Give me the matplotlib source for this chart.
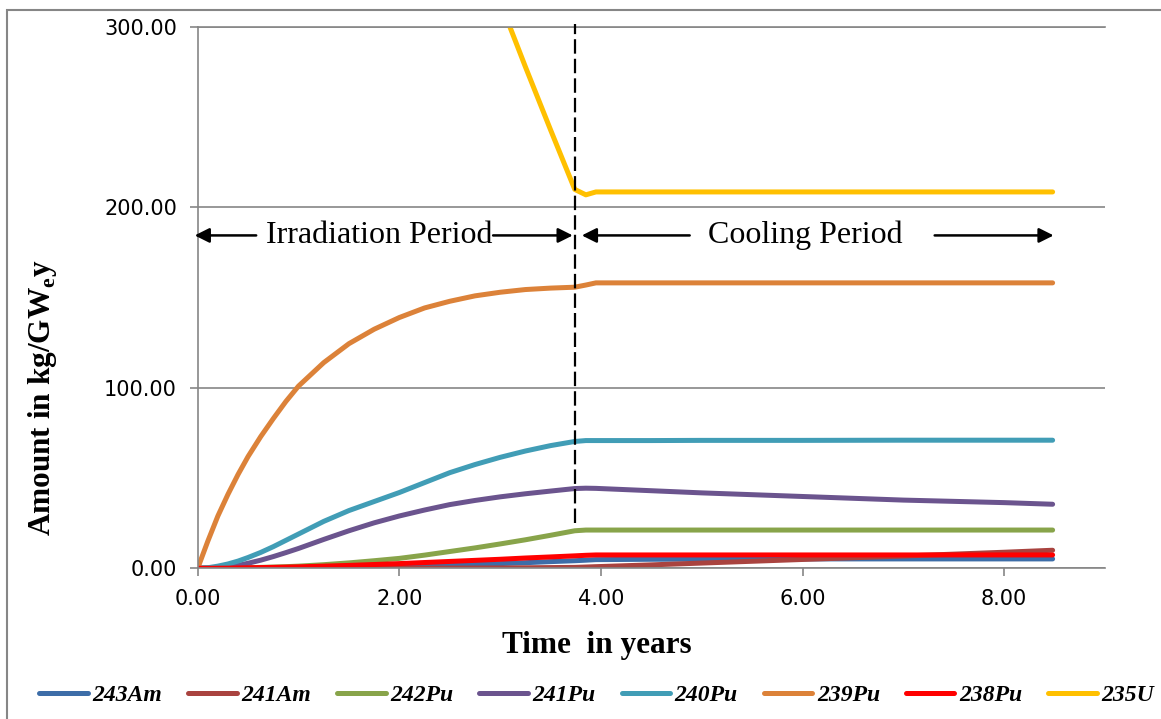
import numpy as np
import matplotlib.pyplot as plt
from matplotlib.patches import Rectangle
from matplotlib.ticker import FormatStrFormatter

# ------------------------------------------------------------------
# data: inventory (kg/GWe.y) versus time (years)
# ------------------------------------------------------------------
years = [0, 0.1, 0.2, 0.3, 0.4, 0.5, 0.625, 0.75, 0.875, 1.0,
         1.25, 1.5, 1.75, 2.0, 2.25, 2.5, 2.75, 3.0, 3.25, 3.5, 3.74,
         3.85, 3.95, 4.5, 5.0, 6.0, 7.0, 8.0, 8.48]

am243 = [0, 0, 0, 0, 0, 0, 0.02, 0.05, 0.08, 0.1,
         0.2, 0.4, 0.7, 1.0, 1.4, 1.8, 2.2, 2.6, 3.1, 3.7, 4.2,
         4.5, 4.8, 5.0, 5.1, 5.2, 5.2, 5.2, 5.2]
am241 = [0, 0, 0, 0, 0, 0, 0, 0, 0, 0,
         0, 0, 0.02, 0.05, 0.08, 0.1, 0.15, 0.2, 0.3, 0.4, 0.5,
         0.7, 0.9, 1.9, 2.9, 4.9, 6.8, 8.9, 10.0]
pu242 = [0, 0, 0, 0.1, 0.2, 0.3, 0.5, 0.7, 0.9, 1.2,
         2.0, 3.0, 4.2, 5.5, 7.3, 9.3, 11.3, 13.5, 15.8, 18.3, 20.8,
         21.2, 21.2, 21.2, 21.2, 21.2, 21.2, 21.2, 21.2]
pu241 = [0, 0.1, 0.3, 0.8, 1.6, 2.8, 4.5, 6.5, 8.7, 11.0,
         16.0, 20.8, 25.2, 29.0, 32.3, 35.3, 37.6, 39.6, 41.3, 42.8, 44.2,
         44.4, 44.3, 43.0, 41.8, 39.8, 37.8, 36.4, 35.5]
pu240 = [0, 0.3, 1.2, 2.4, 4.0, 6.0, 8.8, 12.0, 15.5, 19.0,
         26.0, 32.0, 37.0, 42.0, 47.5, 53.0, 57.5, 61.5, 65.0, 68.0, 70.3,
         70.8, 70.8, 70.8, 70.9, 70.9, 71.0, 71.0, 71.0]
pu239 = [0, 15, 29, 41, 52, 62, 73, 83, 92.5, 101,
         114, 124.5, 132.5, 139, 144.3, 148, 151, 153, 154.5, 155.3, 155.8,
         157.0, 158.2, 158.2, 158.2, 158.2, 158.2, 158.2, 158.2]
pu238 = [0, 0, 0.05, 0.1, 0.2, 0.3, 0.4, 0.5, 0.65, 0.8,
         1.2, 1.6, 2.1, 2.6, 3.2, 3.8, 4.4, 5.0, 5.7, 6.3, 6.9,
         7.2, 7.4, 7.4, 7.4, 7.4, 7.4, 7.4, 7.4]
u235 = [np.nan] * 15 + [385, 350, 314, 278, 243, 210,
                        207, 208.6, 208.6, 208.6, 208.6, 208.6, 208.6, 208.6]

labels = ['243Am', '241Am', '242Pu', '241Pu', '240Pu', '239Pu', '238Pu', '235U']
values = [am243, am241, pu242, pu241, pu240, pu239, pu238, u235]
colors = ['#3D6DA8', '#A9433F', '#88A44A', '#6B548E',
          '#419DB6', '#DC8239', '#FF0000', '#FFC000']

end_of_irradiation = 3.74

# ------------------------------------------------------------------
# figure
# ------------------------------------------------------------------
plt.rcParams['mathtext.fontset'] = 'custom'
plt.rcParams['mathtext.rm'] = 'Liberation Serif'
plt.rcParams['mathtext.bf'] = 'Liberation Serif:bold'

fig = plt.figure(figsize=(11.61, 7.19), dpi=100)
ax = fig.add_axes([0.1703, 0.2096, 0.7815, 0.7528])

grey = '#868686'

for y, lab, c in zip(values, labels, colors):
    ax.plot(years, y, color=c, lw=3.6, label=lab,
            solid_capstyle='round', solid_joinstyle='round')

ax.set_xlim(0, 9)
ax.set_ylim(0, 300)
ax.set_xticks([0, 2, 4, 6, 8])
ax.set_yticks([0, 100, 200, 300])
ax.xaxis.set_major_formatter(FormatStrFormatter('%.2f'))
ax.yaxis.set_major_formatter(FormatStrFormatter('%.2f'))
ax.tick_params(axis='both', labelsize=15, color=grey, width=1.2, length=6,
               labelfontfamily='DejaVu Sans')
ax.tick_params(axis='y', pad=9)
ax.tick_params(axis='x', pad=9)

ax.grid(axis='y', color=grey, lw=1.2)
ax.set_axisbelow(True)
for side in ['left', 'bottom', 'top']:
    ax.spines[side].set_color(grey)
    ax.spines[side].set_linewidth(1.2)
ax.spines['right'].set_visible(False)

# boundary between irradiation and cooling
ax.plot([end_of_irradiation, end_of_irradiation], [25, 301.5], color='black',
        lw=1.6, dashes=(6.5, 2.3), clip_on=False, zorder=5)

# period arrows and labels
arrow = dict(arrowstyle='-|>', color='black', lw=1.8, mutation_scale=22,
             shrinkA=0, shrinkB=0)
y_arrow = 184.5
for tail, head in [(0.58, -0.03), (2.93, 3.72), (4.88, 3.81), (7.31, 8.49)]:
    ax.annotate('', xy=(head, y_arrow), xytext=(tail, y_arrow),
                arrowprops=arrow, annotation_clip=False)

ax.text(1.80, y_arrow, 'Irradiation Period', ha='center', va='center',
        family='Liberation Serif', fontsize=23)
ax.text(6.03, y_arrow, 'Cooling Period', ha='center', va='center',
        family='Liberation Serif', fontsize=23)

fig.text(0.514, 1 - 645 / 719, 'Time  in years', ha='center', va='center',
         family='Liberation Serif', fontweight='bold', fontsize=22.5)
fig.text(43 / 1161, 1 - 398 / 719, r'Amount in kg/GW$_\mathbf{e}$y',
         ha='center', va='center', rotation=90,
         family='Liberation Serif', fontweight='bold', fontsize=22.5)

fig.legend(loc='center', bbox_to_anchor=(0.514, 1 - 695 / 719), ncol=8,
           frameon=False, handlelength=2.05, handletextpad=0.2,
           columnspacing=1.1,
           prop=dict(family='Liberation Serif', weight='bold',
                     style='italic', size=17))

# outer chart border
fig.patches.append(Rectangle((7 / 1161, -0.2), 1.2, 0.2 + 1 - 10 / 719,
                             transform=fig.transFigure, fill=False,
                             edgecolor=grey, lw=1.5))

fig.savefig('out.png', dpi=100)
